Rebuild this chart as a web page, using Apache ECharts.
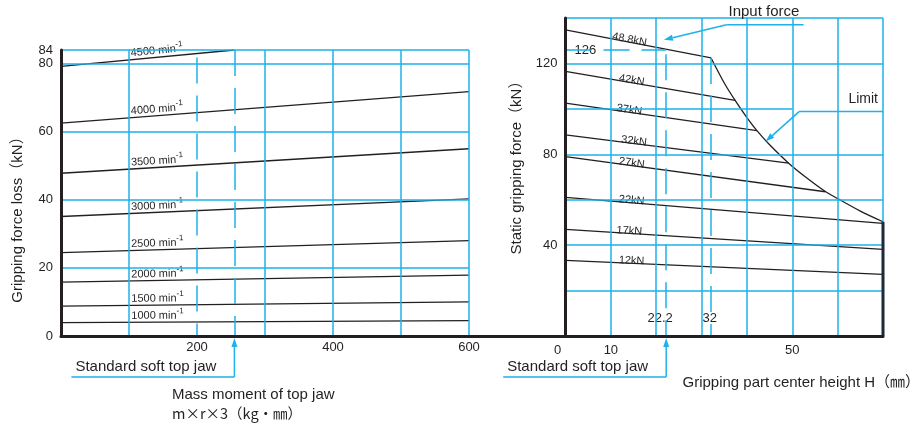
<!DOCTYPE html>
<html><head><meta charset="utf-8">
<script src="https://cdn.jsdelivr.net/npm/echarts@6/dist/echarts.min.js"></script>
<style>html,body{margin:0;padding:0;background:#fff}#c{width:919px;height:425px}</style>
</head><body><div id="c"></div>
<script>
// ===== DATA =====
const speedLabels = ['1000', '1500', '2000', '2500', '3000', '3500', '4000', '4500'];
const massX = [0, 600];
const massX4500 = [0, 255];
const loss1000 = [3.9, 4.5];
const loss1500 = [8.8, 10.0];
const loss2000 = [15.8, 17.9];
const loss2500 = [24.5, 28.0];
const loss3000 = [35.1, 40.3];
const loss3500 = [47.8, 55.0];
const loss4000 = [62.5, 71.8];
const loss4500 = [79.2, 84.0];

const forceLabels = ['48.8kN', '42kN', '37kN', '32kN', '27kN', '22kN', '17kN', '12kN'];
const h48_8 = [0, 32.1];  const grip48_8 = [134.8, 122.4];
const h42 = [0, 37.4];    const grip42 = [116.5, 103.7];
const h37 = [0, 42.2];    const grip37 = [102.5, 90.4];
const h32 = [0, 49.2];    const grip32 = [88.5, 76.1];
const h27 = [0, 57.3];    const grip27 = [79.0, 63.5];
const h22 = [0, 70];      const grip22 = [61.0, 49.6];
const h17 = [0, 70];      const grip17 = [46.9, 38.1];
const h12 = [0, 70];      const grip12 = [33.3, 27.1];
const limitH = [32.1, 35, 37.4, 40, 42.2, 45, 49.2, 53, 57.3, 60, 65, 70];
const limitGrip = [122.4, 111.4, 103.7, 96.1, 90.4, 84.2, 76.1, 69.9, 63.6, 60.5, 55.0, 50.3];

const lossTicks = [0, 20, 40, 60, 80, 84];
const massTicks = [200, 400, 600];
const gripTicks = [40, 80, 120];
const heightTicks = [0, 10, 50];
const stdJawMass = 255;
const stdJawHeight = 22.2;
const limitCornerH = 32;
const grip126 = 126;

// ===== STYLE =====
const CY = '#1db2ea', K = '#231f20';
const FONT = "'Liberation Sans', 'Noto Sans CJK JP', sans-serif";
const DASH = [26, 12];

const zip = (a, b) => a.map((v, i) => [v, b[i]]);
const leftLines = [
  zip(massX, loss1000), zip(massX, loss1500), zip(massX, loss2000), zip(massX, loss2500),
  zip(massX, loss3000), zip(massX, loss3500), zip(massX, loss4000), zip(massX4500, loss4500)
];
const rightLines = [
  zip(h48_8, grip48_8), zip(h42, grip42), zip(h37, grip37), zip(h32, grip32),
  zip(h27, grip27), zip(h22, grip22), zip(h17, grip17), zip(h12, grip12)
];
const limitLine = zip(limitH, limitGrip);

function gridSeries(g, lines) {
  return {
    type: 'line', xAxisIndex: g, yAxisIndex: g, data: [], z: 1, silent: true,
    markLine: {
      silent: true, symbol: ['none', 'none'], label: { show: false }, animation: false,
      data: lines.map(([a, b, d]) => [
        { coord: a, lineStyle: { color: CY, width: 1.5, type: d ? DASH : 'solid' } },
        { coord: b }
      ])
    }
  };
}
const leftGrid = [];
[20, 40, 60, 80, 84].forEach(v => leftGrid.push([[0, v], [600, v]]));
[100, 300, 400, 500, 600].forEach(v => leftGrid.push([[v, 0], [v, 84]]));
leftGrid.push([[200, 81.8], [200, 0], true]);
leftGrid.push([[stdJawMass, 84], [stdJawMass, 0], true]);

const rightGrid = [];
[20, 40, 60, 80, 120, 140].forEach(v => rightGrid.push([[0, v], [70, v]]));
rightGrid.push([[0, 100], [50, 100]]);
[10, 20, 30, 40, 50, 60].forEach(v => rightGrid.push([[v, 0], [v, 140]]));
rightGrid.push([[70, limitGrip[limitGrip.length - 1]], [70, 140]]);
rightGrid.push([[stdJawHeight, 124], [stdJawHeight, 0], true]);
rightGrid.push([[limitCornerH, limitGrip[0]], [limitCornerH, 0], true]);
rightGrid.push([[0, grip126], [stdJawHeight, grip126], true]);

const lineSeries = (g, data, extra) => Object.assign({
  type: 'line', xAxisIndex: g, yAxisIndex: g, data, symbol: 'none', z: 4, silent: true,
  lineStyle: { color: K, width: 1.3 }
}, extra || {});

const axisLbl = { color: K, fontSize: 13, fontFamily: FONT };
const option = {
  animation: false,
  textStyle: { fontFamily: FONT },
  grid: [
    { left: 61, top: 50, width: 408, height: 286, outerBoundsMode: 'none' },
    { left: 565.5, top: 18, width: 317.5, height: 318, outerBoundsMode: 'none' },
    { left: 61, top: 300, width: 822, height: 36, outerBoundsMode: 'none' }
  ],
  xAxis: [
    { gridIndex: 0, type: 'value', min: 0, max: 600, interval: 100,
      axisLine: { show: false }, axisTick: { show: false }, splitLine: { show: false },
      axisLabel: Object.assign({ margin: 5, formatter: v => massTicks.includes(v) ? String(v) : '' }, axisLbl) },
    { gridIndex: 1, type: 'value', min: 0, max: 70, interval: 10,
      axisLine: { show: false }, axisTick: { show: false }, splitLine: { show: false },
      axisLabel: Object.assign({ margin: 8, formatter: v => v === 0 ? '{z|0}' : (heightTicks.includes(v) ? String(v) : ''),
        rich: { z: { fontSize: 13, color: K, fontFamily: FONT, padding: [0, 16, 0, 0] } } }, axisLbl) },
    { gridIndex: 2, type: 'value', min: 0, max: 1, z: 10,
      axisLine: { show: true, onZero: false, lineStyle: { color: K, width: 3 } },
      axisTick: { show: false }, splitLine: { show: false }, axisLabel: { show: false } }
  ],
  yAxis: [
    { gridIndex: 0, type: 'value', min: 0, max: 84, interval: 4, z: 10,
      axisLine: { show: true, lineStyle: { color: K, width: 3 } }, axisTick: { show: false }, splitLine: { show: false },
      axisLabel: Object.assign({ margin: 8, showMaxLabel: true, showMinLabel: true,
        formatter: v => lossTicks.includes(v) ? String(v) : '' }, axisLbl) },
    { gridIndex: 1, type: 'value', min: 0, max: 140, interval: 20, z: 10,
      axisLine: { show: true, lineStyle: { color: K, width: 3 } }, axisTick: { show: false }, splitLine: { show: false },
      axisLabel: Object.assign({ margin: 8, formatter: v => gripTicks.includes(v) ? String(v) : '' }, axisLbl) },
    { gridIndex: 2, type: 'value', min: 0, max: 1, show: false }
  ],
  series: [
    gridSeries(0, leftGrid),
    gridSeries(1, rightGrid),
    { type: 'line', xAxisIndex: 2, yAxisIndex: 2, data: [], silent: true },
    ...leftLines.map(d => lineSeries(0, d)),
    ...rightLines.map(d => lineSeries(1, d)),
    lineSeries(1, limitLine, { smooth: 0.3 }),
    lineSeries(1, [[70, 0], [70, limitGrip[limitGrip.length - 1]]], { lineStyle: { color: '#1c2a3a', width: 3 }, z: 5 })
  ]
};

const chart = echarts.init(document.getElementById('c'));
chart.setOption(option);

// ===== PHASE 2: labels & annotations positioned through the axes =====
const P = (g, pt) => chart.convertToPixel({ gridIndex: g }, pt);
const interp = (line, x) => {
  const [a, b] = line; return a[1] + (b[1] - a[1]) * (x - a[0]) / (b[0] - a[0]);
};
const angleOf = (g, line) => {
  const p0 = P(g, line[0]), p1 = P(g, line[1]);
  return -Math.atan2(p1[1] - p0[1], p1[0] - p0[0]) * 180 / Math.PI;
};

const leftLabelX = 102;
const leftLabelItems = leftLines.map((ln, i) => ({
  value: [leftLabelX, interp(ln, leftLabelX)],
  label: {
    show: true, position: 'inside', align: 'left', verticalAlign: 'bottom', offset: [0, -1],
    rotate: angleOf(0, ln),
    formatter: '{n|' + speedLabels[i] + ' min}{s|-1}',
    backgroundColor: '#fff', padding: [0, 1, 0, 1],
    rich: {
      n: { fontSize: 11, color: K, fontFamily: FONT, lineHeight: 14, verticalAlign: 'bottom' },
      s: { fontSize: 8, color: K, fontFamily: FONT, lineHeight: 8, verticalAlign: 'top' }
    }
  }
}));
const rightLabelX = [10, 11.5, 11, 12, 11.5, 11.5, 11, 11.5];
const rightLabelItems = rightLines.map((ln, i) => ({
  value: [rightLabelX[i], interp(ln, rightLabelX[i])],
  label: {
    show: true, position: 'inside', align: 'left', verticalAlign: 'bottom', offset: [0, 3],
    rotate: angleOf(1, ln), formatter: forceLabels[i],
    fontSize: 11, color: K, fontFamily: FONT, backgroundColor: '#fff', padding: [0, 1, 0, 1]
  }
}));
const markItems = [
  { value: [0, grip126], label: { show: true, position: 'inside', align: 'left', offset: [8, 1], formatter: String(grip126),
      fontSize: 13, color: K, fontFamily: FONT, backgroundColor: '#fff', padding: [1, 2, 1, 1] } },
  { value: [stdJawHeight, 7.8], label: { show: true, position: 'inside', align: 'center', offset: [-6, 0], formatter: String(stdJawHeight),
      fontSize: 13, color: K, fontFamily: FONT, backgroundColor: '#fff', padding: [2, 1, 2, 1] } },
  { value: [limitCornerH, 7.8], label: { show: true, position: 'inside', align: 'center', offset: [-1, 0], formatter: String(limitCornerH),
      fontSize: 13, color: K, fontFamily: FONT, backgroundColor: '#fff', padding: [2, 1, 2, 1] } }
];

const gr = [];
const txt = (x, y, text, o) => gr.push({ type: 'text', x, y, z: 20, rotation: (o && o.rot) || 0,
  style: { text, fill: K, fontSize: (o && o.fs) || 15, fontFamily: (o && o.ff) || FONT,
    align: (o && o.align) || 'left', verticalAlign: 'middle' } });
const seg = (a, b) => gr.push({ type: 'line', z: 20, shape: { x1: a[0], y1: a[1], x2: b[0], y2: b[1] },
  style: { stroke: CY, lineWidth: 1.5 } });
const rect = (x, y, w, h) => gr.push({ type: 'rect', z: 2, shape: { x, y, width: w, height: h }, style: { fill: '#fff' } });
const arrow = (from, tip) => {
  const dx = tip[0] - from[0], dy = tip[1] - from[1], L = Math.hypot(dx, dy);
  const ux = dx / L, uy = dy / L, bx = tip[0] - ux * 9, by = tip[1] - uy * 9;
  seg(from, [bx, by]);
  gr.push({ type: 'polygon', z: 20, shape: { points: [tip, [bx - uy * 3, by + ux * 3], [bx + uy * 3, by - ux * 3]] },
    style: { fill: CY } });
};

// Standard soft top jaw markers
[[0, stdJawMass], [1, stdJawHeight]].forEach(([g, v]) => {
  const t = P(g, [v, 0]);
  const uy = t[1] + 41;
  seg([t[0] - 163, uy], [t[0], uy]);
  arrow([t[0], uy], [t[0], t[1] + 2]);
  txt(t[0] - 159, t[1] + 31, 'Standard soft top jaw');
});
const o0 = P(0, [0, 0]), o1 = P(1, [0, 0]);
txt(o0[0] + 111, o0[1] + 59, 'Mass moment of top jaw');
txt(o0[0] + 111, o0[1] + 77, 'm×r×3（kg・㎜）', { fs: 14.5, ff: "'Noto Sans CJK JP', sans-serif" });
txt(o1[0] + 117, o1[1] + 47, 'Gripping part center height H（㎜）');
txt(o0[0] - 43, o0[1] - 120, 'Gripping force loss（kN）', { rot: Math.PI / 2, align: 'center' });
txt(o1[0] - 49, o1[1] - 172, 'Static gripping force（kN）', { rot: Math.PI / 2, align: 'center' });

// Input force callout
const inA = P(1, [35.5, 137]), inB = P(1, [52.5, 137]), inT = P(1, [21.7, 130.4]);
rect(inA[0] - 1, 0, inB[0] - inA[0] + 2, inA[1] + 10);
seg(inA, inB);
arrow(inA, inT);
txt(inA[0] + 2, inA[1] - 13, 'Input force');
// Limit callout
const lmA = P(1, [51.5, 98.8]), lmB = P(1, [70, 98.8]), lmT = P(1, [44.1, 85.6]);
rect(lmA[0], lmA[1] - 24, lmB[0] - lmA[0] + 4, 32);
seg(lmA, lmB);
arrow(lmA, lmT);
txt(lmB[0] - 5, lmA[1] - 12, 'Limit', { fs: 14, align: 'right' });

const labelSeries = (g, data) => ({ type: 'scatter', xAxisIndex: g, yAxisIndex: g, symbolSize: 0, z: 3, silent: true,
  itemStyle: { opacity: 1 }, data });
chart.setOption({
  series: option.series.concat([
    labelSeries(0, leftLabelItems),
    labelSeries(1, rightLabelItems),
    labelSeries(1, markItems)
  ]),
  graphic: gr
});
</script>
</body></html>
